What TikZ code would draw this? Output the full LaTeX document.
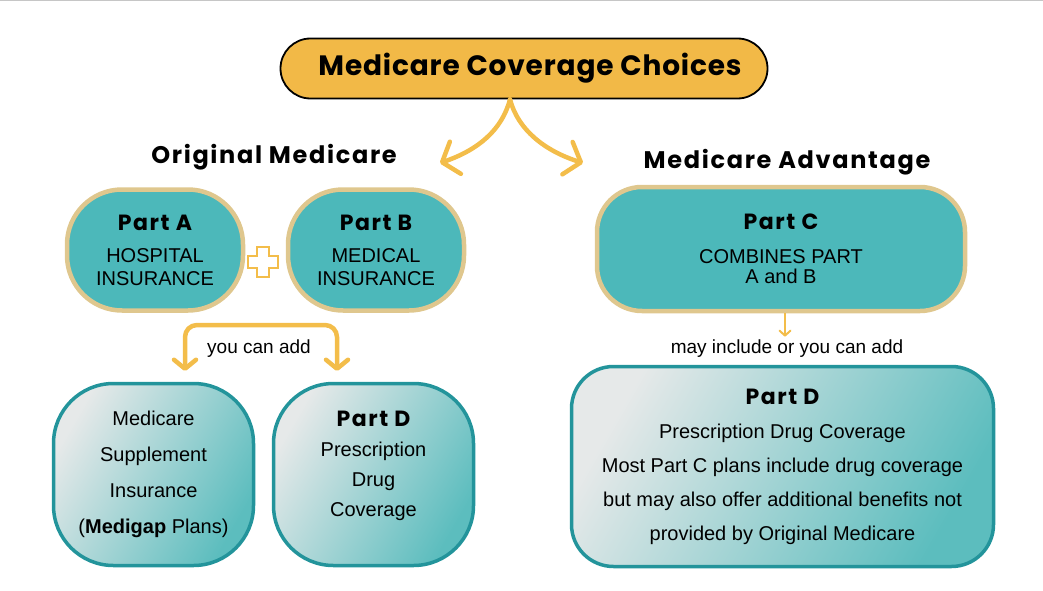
\documentclass[tikz,border=0pt]{standalone}
\usepackage{fontspec}
\setmainfont{Liberation Sans}
\newfontfamily\popfont{Poppins}[LetterSpace=7]
\newfontfamily\titlefont{Poppins}[LetterSpace=3]
\usetikzlibrary{arrows.meta,positioning}

\definecolor{titlegold}{HTML}{F2B947}
\definecolor{arrowgold}{HTML}{F3BD4A}
\definecolor{ovalteal}{HTML}{4CB8BA}
\definecolor{ovaltan}{HTML}{DFC78E}
\definecolor{boxteal}{HTML}{23949B}
\definecolor{shadelight}{HTML}{E6E9E9}
\definecolor{shadeteal}{HTML}{5CBDBE}

\newcommand{\partlabel}[1]{{\popfont\bfseries\fontsize{22}{23}\selectfont #1}}

\tikzset{
  heading/.style={font=\popfont\bfseries\fontsize{24}{26}\selectfont},
  oval/.style={draw=ovaltan,line width=4.5pt,fill=ovalteal,rounded corners=55pt,
    minimum width=176pt,minimum height=121pt,align=center,font=\fontsize{20}{23}\selectfont},
  addbox/.style={draw=boxteal,line width=3.5pt,left color=shadelight,right color=shadeteal,shading angle=60,
    align=center,font=\fontsize{20}{36}\selectfont},
  goldline/.style={draw=arrowgold,line width=4.5pt,line cap=round,line join=round},
  smalltext/.style={font=\fontsize{19}{22}\selectfont}
}

\begin{document}
\begin{tikzpicture}[x=1pt,y=-1pt,>={Straight Barb[round,length=14pt,width=34pt]}]
\useasboundingbox (0,0) rectangle (1043,591);
\draw[gray!45,line width=1.5pt] (0,0.75)--(1043,0.75);

% title
\node[draw,line width=1.8pt,fill=titlegold,rounded corners=30pt,minimum width=487pt,minimum height=60pt,
  font=\titlefont\bfseries\fontsize{28}{30}\selectfont] (title) at (524,68.5) {\hspace*{12pt}Medicare Coverage Choices};

% the two branches
\coordinate (origtip) at (440,163);
\coordinate (advtip) at (583,163);
\draw[goldline,->] ([xshift=-14pt]title.south) .. controls (502,130) and (478,150) .. (origtip);
\draw[goldline,->] ([xshift=-14pt]title.south) .. controls (518,130) and (545,151) .. (advtip);

\node[heading] (orig) at (274,157) {Original Medicare};
\node[heading] (adv) at (787,162) {Medicare Advantage};

% original medicare
\node[oval] (parta) at (155,250) {\partlabel{Part A}\\[9pt]HOSPITAL\\INSURANCE};
\node[oval] (partb) at (376,250) {\partlabel{Part B}\\[9pt]MEDICAL\\INSURANCE};
\draw[arrowgold,line width=2pt,fill=white,shift={(263,262)}]
  (-6,-15)--(6,-15)--(6,-6)--(15,-6)--(15,6)--(6,6)--(6,15)--(-6,15)--(-6,6)--(-15,6)--(-15,-6)--(-6,-6)--cycle;

\node[smalltext] (youadd) at (259,349) {you can add};
\coordinate (addleft) at (185,371);
\coordinate (addright) at (337,371);
\draw[goldline,rounded corners=12pt,{Straight Barb[round,length=9pt,width=22pt]}-{Straight Barb[round,length=9pt,width=22pt]}]
  (addleft) |- (261,325) -| (addright);

\node[addbox,minimum width=200pt,minimum height=182pt,rounded corners=60pt] (medigap) at (153.5,474.5)
  {Medicare\\Supplement\\Insurance\\(\textbf{Medigap} Plans)};
\node[addbox,minimum width=200pt,minimum height=182pt,rounded corners=60pt] (partdleft) at (373.5,474.5) {};
\node[align=center,font=\fontsize{20}{30}\selectfont] (partdtext) at (373.5,465.5)
  {\partlabel{Part D}\\Prescription\\Drug\\Coverage};

% medicare advantage
\node[oval,minimum width=368pt,minimum height=124pt,rounded corners=45pt,font=\fontsize{20}{20}\selectfont] (partc) at (781,249)
  {\partlabel{Part C}\\[14pt]COMBINES PART\\A and B};
\node[smalltext] (mayadd) at (787,349) {may include or you can add};
\draw[arrowgold,line width=2pt,-{Straight Barb[round,length=5pt,width=11pt]}] ([xshift=4pt]partc.south) -- ([xshift=-2pt]mayadd.north);

\node[addbox,minimum width=422pt,minimum height=200pt,rounded corners=42pt,font=\fontsize{20}{34}\selectfont] (partdright) at (782.5,466.5)
  {\partlabel{Part D}\\Prescription Drug Coverage\\Most Part C plans include drug coverage\\but may also offer additional benefits not\\provided by Original Medicare};

\end{tikzpicture}
\end{document}
